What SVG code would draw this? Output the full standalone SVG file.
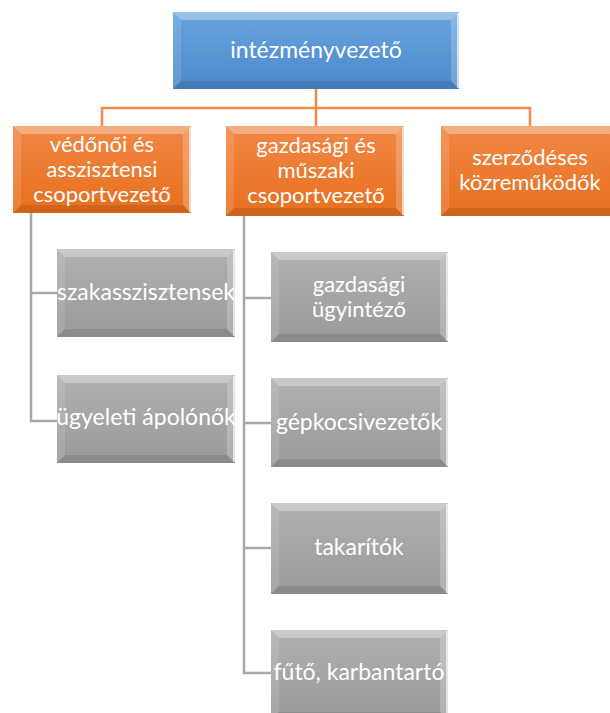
<svg xmlns="http://www.w3.org/2000/svg" width="610" height="713" viewBox="0 0 610 713">
<style>
text{font-family:Lato,"Open Sans","Liberation Sans",sans-serif;font-size:23px;fill:#ffffff;text-anchor:middle}
text.m{font-size:22px}
.bt{fill:#ffffff;fill-opacity:0.33}
.bl{fill:#ffffff;fill-opacity:0.12}
.br{fill:#ffffff;fill-opacity:0.22}
.bb{fill:#000000;fill-opacity:0.10}
.hl{stroke:#ffffff;stroke-opacity:0.85;stroke-width:1.5;fill:none}
.co{stroke:#f0894a;stroke-width:2.5;fill:none}
.cg{stroke:#a8a8a8;stroke-width:2.5;fill:none}
</style>
<defs>
<linearGradient id="gBlue" x1="0" y1="0" x2="0" y2="1">
<stop offset="0" stop-color="#68a4de"/><stop offset="1" stop-color="#4b89cb"/>
</linearGradient>
<linearGradient id="gOrange" x1="0" y1="0" x2="0" y2="1">
<stop offset="0" stop-color="#f18845"/><stop offset="1" stop-color="#e86f1e"/>
</linearGradient>
<linearGradient id="gGray" x1="0" y1="0" x2="0" y2="1">
<stop offset="0" stop-color="#b0b0b0"/><stop offset="1" stop-color="#9a9a9a"/>
</linearGradient>
</defs>

<g id="connectors">
<path class="co" d="M316 89V126M102 126V108H530V126"/>
<path class="cg" d="M31 213V421H57M31 293H57"/>
<path class="cg" d="M244 216V673H271M244 298H271M244 423H271M244 548H271"/>
</g>

<g id="n-intezmenyvezeto" transform="translate(173,12)">
<rect width="286" height="77" fill="url(#gBlue)"/>
<polygon class="bt" points="0,0 286,0 278,8 8,8"/>
<polygon class="bl" points="0,0 8,8 8,69 0,77"/>
<polygon class="br" points="286,0 286,77 278,69 278,8"/>
<polygon class="bb" points="0,77 8,69 278,69 286,77"/>
<line class="hl" x1="285" y1="1" x2="285" y2="76"/>
<text x="143" y="46">intézményvezető</text>
</g>

<g id="n-vedonoi" transform="translate(13,126)">
<rect width="178" height="87" fill="url(#gOrange)"/>
<polygon class="bt" points="0,0 178,0 170,8 8,8"/>
<polygon class="bl" points="0,0 8,8 8,79 0,87"/>
<polygon class="br" points="178,0 178,87 170,79 170,8"/>
<polygon class="bb" points="0,87 8,79 170,79 178,87"/>
<line class="hl" x1="177" y1="1" x2="177" y2="86"/>
<text class="m" x="89" y="26">védőnői és</text>
<text class="m" x="89" y="51">asszisztensi</text>
<text class="m" x="89" y="76">csoportvezető</text>
</g>

<g id="n-gazdasagi-muszaki" transform="translate(226,126)">
<rect width="178" height="90" fill="url(#gOrange)"/>
<polygon class="bt" points="0,0 178,0 170,8 8,8"/>
<polygon class="bl" points="0,0 8,8 8,82 0,90"/>
<polygon class="br" points="178,0 178,90 170,82 170,8"/>
<polygon class="bb" points="0,90 8,82 170,82 178,90"/>
<line class="hl" x1="177" y1="1" x2="177" y2="89"/>
<text class="m" x="90" y="27">gazdasági és</text>
<text class="m" x="90" y="52">műszaki</text>
<text class="m" x="90" y="77">csoportvezető</text>
</g>

<g id="n-szerzodeses" transform="translate(441,126)">
<rect width="178" height="90" fill="url(#gOrange)"/>
<polygon class="bt" points="0,0 178,0 170,8 8,8"/>
<polygon class="bl" points="0,0 8,8 8,82 0,90"/>
<polygon class="bb" points="0,90 8,82 170,82 178,90"/>
<text class="m" x="89" y="39">szerződéses</text>
<text class="m" x="89" y="64">közreműködők</text>
</g>

<g id="n-szakasszisztensek" transform="translate(57,249)">
<rect width="178" height="88" fill="url(#gGray)"/>
<polygon class="bt" points="0,0 178,0 170,8 8,8"/>
<polygon class="bl" points="0,0 8,8 8,80 0,88"/>
<polygon class="br" points="178,0 178,88 170,80 170,8"/>
<polygon class="bb" points="0,88 8,80 170,80 178,88"/>
<line class="hl" x1="177" y1="1" x2="177" y2="87"/>
<text x="89" y="51">szakasszisztensek</text>
</g>

<g id="n-ugyeleti" transform="translate(57,375)">
<rect width="178" height="88" fill="url(#gGray)"/>
<polygon class="bt" points="0,0 178,0 170,8 8,8"/>
<polygon class="bl" points="0,0 8,8 8,80 0,88"/>
<polygon class="br" points="178,0 178,88 170,80 170,8"/>
<polygon class="bb" points="0,88 8,80 170,80 178,88"/>
<line class="hl" x1="177" y1="1" x2="177" y2="87"/>
<text x="89" y="50">ügyeleti ápolónők</text>
</g>

<g id="n-gazdasagi-ugyintezo" transform="translate(271,252)">
<rect width="177" height="90" fill="url(#gGray)"/>
<polygon class="bt" points="0,0 177,0 169,8 8,8"/>
<polygon class="bl" points="0,0 8,8 8,82 0,90"/>
<polygon class="br" points="177,0 177,90 169,82 169,8"/>
<polygon class="bb" points="0,90 8,82 169,82 177,90"/>
<line class="hl" x1="176" y1="1" x2="176" y2="89"/>
<text class="m" x="88" y="40">gazdasági</text>
<text class="m" x="88" y="65">ügyintéző</text>
</g>

<g id="n-gepkocsivezetok" transform="translate(271,378)">
<rect width="177" height="89" fill="url(#gGray)"/>
<polygon class="bt" points="0,0 177,0 169,8 8,8"/>
<polygon class="bl" points="0,0 8,8 8,81 0,89"/>
<polygon class="br" points="177,0 177,89 169,81 169,8"/>
<polygon class="bb" points="0,89 8,81 169,81 177,89"/>
<line class="hl" x1="176" y1="1" x2="176" y2="88"/>
<text x="88" y="52">gépkocsivezetők</text>
</g>

<g id="n-takaritok" transform="translate(271,503)">
<rect width="177" height="91" fill="url(#gGray)"/>
<polygon class="bt" points="0,0 177,0 169,8 8,8"/>
<polygon class="bl" points="0,0 8,8 8,83 0,91"/>
<polygon class="br" points="177,0 177,91 169,83 169,8"/>
<polygon class="bb" points="0,91 8,83 169,83 177,91"/>
<line class="hl" x1="176" y1="1" x2="176" y2="90"/>
<text x="88" y="52">takarítók</text>
</g>

<g id="n-futo-karbantarto" transform="translate(271,630)">
<rect width="177" height="90" fill="url(#gGray)"/>
<polygon class="bt" points="0,0 177,0 169,8 8,8"/>
<polygon class="bl" points="0,0 8,8 8,82 0,90"/>
<polygon class="br" points="177,0 177,90 169,82 169,8"/>
<polygon class="bb" points="0,90 8,82 169,82 177,90"/>
<line class="hl" x1="176" y1="1" x2="176" y2="89"/>
<text x="88" y="50">fűtő, karbantartó</text>
</g>
</svg>
